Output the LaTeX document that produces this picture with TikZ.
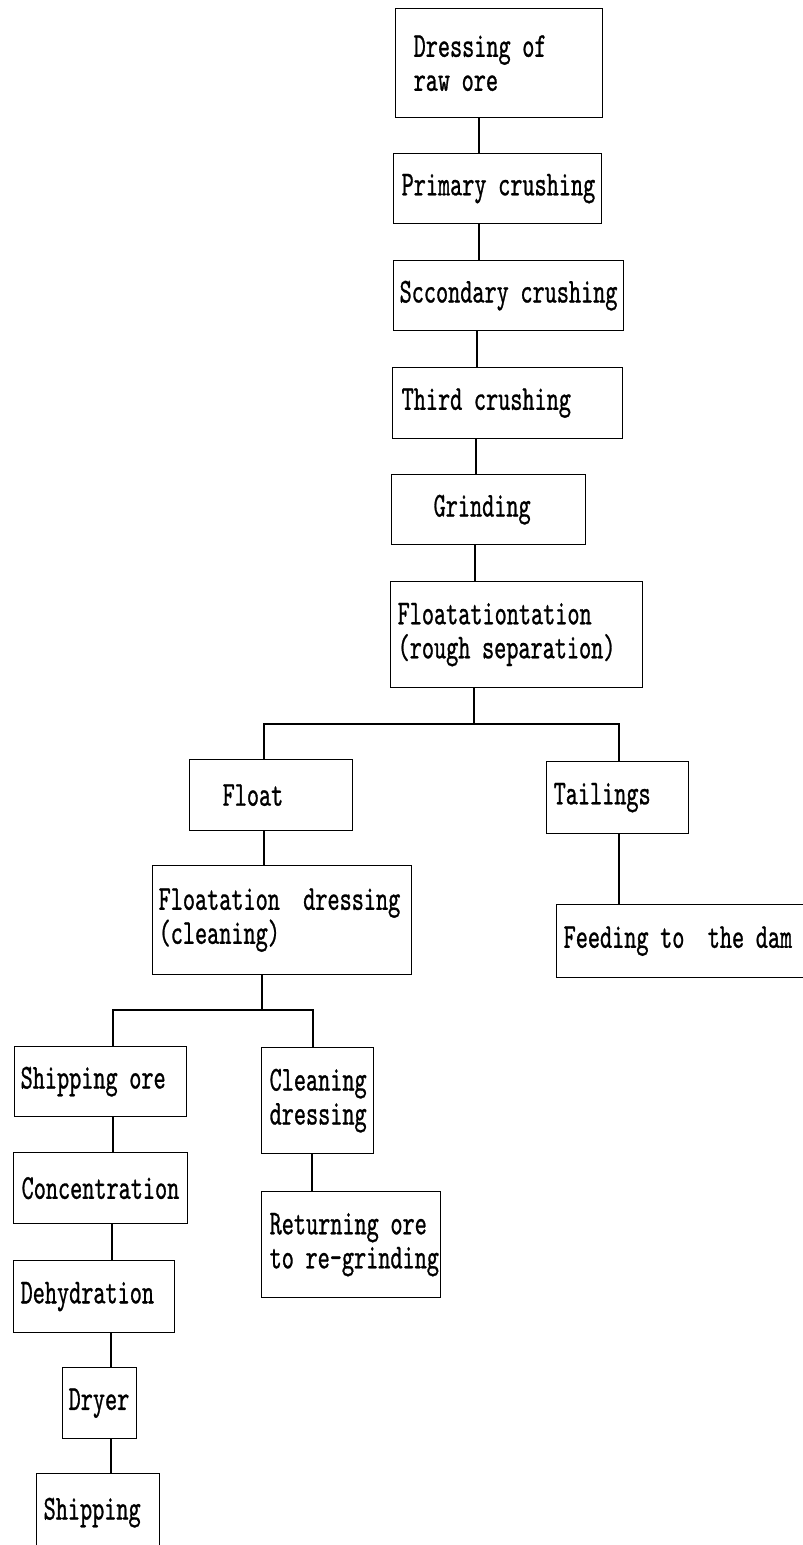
\documentclass[tikz,border=0pt]{standalone}
\usepackage{fontspec}
\newfontfamily\boxfont[FakeStretch=0.66,FakeBold=0.8]{lmmono10-regular.otf}
\newcommand\nobreakwords{\hyphenpenalty=10000\relax\exhyphenpenalty=10000\relax}
\begin{document}
\begin{tikzpicture}[x=1pt,y=-1pt,
  stage/.style={draw, line width=1.3pt, rectangle, anchor=north west,
    align=left, inner ysep=0pt,
    font=\boxfont\fontsize{35}{34}\selectfont\nobreakwords},
  link/.style={line width=1.3pt}]
\fill[white] (0,0) rectangle (803,1545);
\useasboundingbox (0,0) rectangle (803,1545);
\clip (0,0) rectangle (803,1545);

% main line of the dressing process
\node[stage, minimum width=207pt, minimum height=109pt, inner xsep=18pt, text width=171pt] (raw) at (395,8) {Dressing~of\\raw~ore};
\node[stage, minimum width=208pt, minimum height=70pt, inner xsep=8pt, text width=192pt] (prim) at (393,153) {\mbox{Primary~crushing}};
\node[stage, minimum width=230pt, minimum height=70pt, inner xsep=6pt, text width=218pt] (sec) at (393,260) {\mbox{Sccondary~crushing}};
\node[stage, minimum width=230pt, minimum height=71pt, inner xsep=9pt, text width=212pt] (third) at (392,367) {Third~crushing};
\node[stage, minimum width=194pt, minimum height=70pt, inner xsep=42pt, text width=110pt] (grind) at (391,474) {Grinding};
\node[stage, minimum width=252pt, minimum height=106pt, inner xsep=7pt, text width=238pt] (flot) at (390,581) {Floatationtation\\(rough~separation)};

% first split
\node[stage, minimum width=163pt, minimum height=71pt, inner xsep=33pt, text width=97pt] (float) at (189,759) {Float};
\node[stage, minimum width=142pt, minimum height=72pt, inner xsep=7pt, text width=128pt] (tail) at (546,761) {Tailings};
\node[stage, minimum width=259pt, minimum height=73pt, inner xsep=7pt, text width=245pt] (feed) at (556,904) {Feeding~to~~the~dam};
\node[stage, minimum width=259pt, minimum height=109pt, inner xsep=6pt, text width=247pt] (fdress) at (152,865) {\mbox{Floatation~~dressing}\\(cleaning)};

% second split
\node[stage, minimum width=172pt, minimum height=70pt, inner xsep=6pt, text width=160pt] (shipore) at (14,1046) {Shipping~ore};
\node[stage, minimum width=112pt, minimum height=106pt, inner xsep=8pt, text width=96pt] (clean) at (261,1047) {\mbox{Cleaning}\\\mbox{dressing}};
\node[stage, minimum width=179pt, minimum height=106pt, inner xsep=8pt, text width=163pt] (ret) at (261,1191) {\mbox{Returning~ore}\\\mbox{to~re-grinding}};
\node[stage, minimum width=174pt, minimum height=71pt, inner xsep=8pt, text width=158pt] (conc) at (13,1152) {\mbox{Concentration}};
\node[stage, minimum width=161pt, minimum height=72pt, inner xsep=7pt, text width=147pt] (dehyd) at (13,1260) {\mbox{Dehydration}};
\node[stage, minimum width=74pt, minimum height=71pt, inner xsep=6pt, text width=62pt] (dryer) at (62,1367) {\mbox{Dryer}};
\node[stage, minimum width=123pt, minimum height=78pt, inner xsep=7pt, text width=109pt] (ship) at (36,1473) {Shipping};

% connectors
\coordinate (b1) at (474,724);
\coordinate (b2) at (262,1010);
\draw[link] (raw.south -| 479,0) -- (prim.north -| 479,0);
\draw[link] (prim.south -| 479,0) -- (sec.north -| 479,0);
\draw[link] (sec.south -| 477,0) -- (third.north -| 477,0);
\draw[link] (third.south -| 476,0) -- (grind.north -| 476,0);
\draw[link] (grind.south -| 475,0) -- (flot.north -| 475,0);
\draw[link] (flot.south -| b1) -- (b1);
\draw[link] (float.north -| 264,0) |- (b1);
\draw[link] (tail.north -| 619,0) |- (b1);
\draw[link] (float.south -| 264,0) -- (fdress.north -| 264,0);
\draw[link] (tail.south -| 619,0) -- (feed.north -| 619,0);
\draw[link] (fdress.south -| b2) -- (b2);
\draw[link] (shipore.north -| 113,0) |- (b2);
\draw[link] (clean.north -| 313,0) |- (b2);
\draw[link] (clean.south -| 312,0) -- (ret.north -| 312,0);
\draw[link] (shipore.south -| 113,0) -- (conc.north -| 113,0);
\draw[link] (conc.south -| 112,0) -- (dehyd.north -| 112,0);
\draw[link] (dehyd.south -| 111,0) -- (dryer.north -| 111,0);
\draw[link] (dryer.south -| 111,0) -- (ship.north -| 111,0);
\end{tikzpicture}
\end{document}
